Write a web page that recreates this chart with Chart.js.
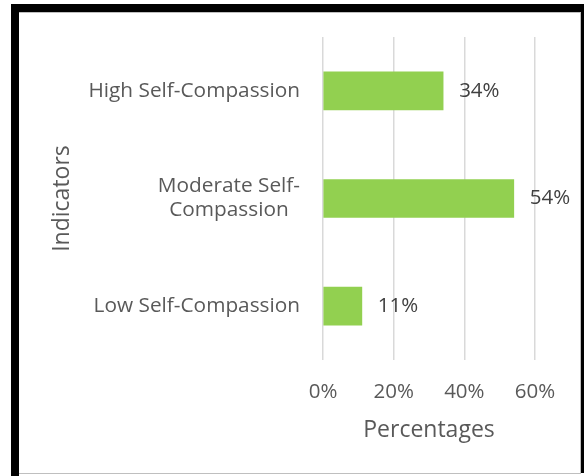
<!DOCTYPE html>
<html>
<head>
<meta charset="utf-8">
<script src="https://cdn.jsdelivr.net/npm/chart.js@4/dist/chart.umd.min.js"></script>
<style>
  html, body { margin: 0; padding: 0; background: #fff; }
  #wrap { position: relative; width: 584px; height: 476px; overflow: hidden; }
  #frame { position: absolute; left: 11px; top: 4px; width: 584px; height: 480px;
           border-left: 8px solid #000; border-top: 8px solid #000; box-sizing: border-box; }
  #frameR { position: absolute; left: 581px; top: 4px; width: 3px; height: 469px; background: #000; }
  #inner { position: absolute; left: 19px; top: 12px; width: 562px; height: 462px;
           border-top: 1px solid #bfbfbf; border-right: 1px solid #bfbfbf; border-bottom: 1px solid #bfbfbf; box-sizing: border-box; }
  canvas { position: absolute; left: 0; top: 0; }
</style>
</head>
<body>
<div id="wrap">
  <div id="frame"></div>
  <div id="frameR"></div>
  <div id="inner"></div>
  <canvas id="c" width="584" height="476"></canvas>
</div>
<script>
const categories = ['High Self-Compassion', ['Moderate Self-', 'Compassion'], 'Low Self-Compassion'];
const values = [34, 54, 11];
const xTicks = [0, 20, 40, 60];
const xTitle = 'Percentages';
const yTitle = 'Indicators';

const FONT = "'Open Sans', sans-serif";
const GREY = '#595959';

const yLabelPlugin = {
  id: 'yLabels',
  afterDraw(chart) {
    const ctx = chart.ctx;
    const ys = chart.scales.y;
    const right = chart.chartArea.left - 23;
    ctx.save();
    ctx.font = '20.8px ' + FONT;
    ctx.fillStyle = GREY;
    ctx.textAlign = 'center';
    ctx.textBaseline = 'middle';
    const lh = 24;
    categories.forEach((lab, i) => {
      const lines = Array.isArray(lab) ? lab : [lab];
      const w = Math.max(...lines.map(l => ctx.measureText(l).width));
      const cx = right - w / 2;
      const yc = ys.getPixelForValue(i);
      const y0 = yc - (lines.length - 1) * lh / 2;
      lines.forEach((l, j) => ctx.fillText(l, cx, y0 + j * lh));
    });
    ctx.restore();
  }
};

const dataLabelPlugin = {
  id: 'dataLabels',
  afterDatasetsDraw(chart) {
    const ctx = chart.ctx;
    const meta = chart.getDatasetMeta(0);
    ctx.save();
    ctx.font = '20.5px ' + FONT;
    ctx.fillStyle = '#404040';
    ctx.textAlign = 'left';
    ctx.textBaseline = 'middle';
    meta.data.forEach((bar, i) => {
      ctx.fillText(values[i] + '%', bar.x + 16, bar.y);
    });
    ctx.restore();
  }
};

new Chart(document.getElementById('c'), {
  type: 'bar',
  data: {
    labels: categories,
    datasets: [{
      data: values,
      backgroundColor: '#92d050',
      borderWidth: 0,
      barThickness: 38
    }]
  },
  options: {
    indexAxis: 'y',
    responsive: false,
    animation: false,
    devicePixelRatio: 1,
    layout: { padding: { left: 49, top: 37, right: 49, bottom: 32 } },
    plugins: { legend: { display: false }, tooltip: { enabled: false } },
    scales: {
      x: {
        min: xTicks[0],
        max: xTicks[xTicks.length - 1],
        afterBuildTicks(scale) { scale.ticks = xTicks.map(v => ({ value: v })); },
        ticks: {
          callback: v => v + '%',
          font: { family: FONT, size: 20.5 },
          color: GREY,
          padding: 20,
          maxRotation: 0
        },
        grid: { color: '#d9d9d9', lineWidth: 1.5, drawTicks: false },
        border: { display: false },
        title: { display: true, text: xTitle, font: { family: FONT, size: 23 }, color: GREY, padding: 0 },
        afterFit(scale) { scale.height = 84; }
      },
      y: {
        ticks: { display: false },
        grid: { display: false, drawTicks: false },
        border: { display: false },
        title: { display: true, text: yTitle, font: { family: FONT, size: 23 }, color: GREY, padding: 0 },
        afterFit(scale) { scale.width = 274; }
      }
    }
  },
  plugins: [yLabelPlugin, dataLabelPlugin]
});
</script>
</body>
</html>
